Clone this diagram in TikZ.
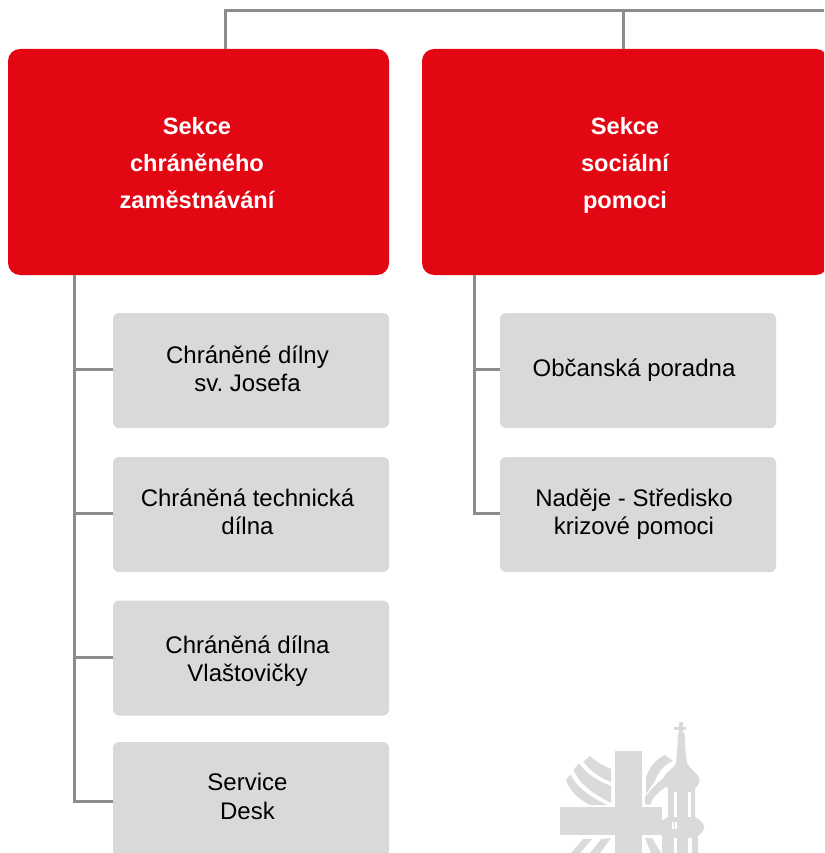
\documentclass[tikz,border=0pt]{standalone}
\usepackage{fontspec}
\setmainfont{Liberation Sans}
\frenchspacing
\definecolor{cred}{HTML}{E30613}
\definecolor{cgray}{HTML}{D9D9D9}
\definecolor{cline}{HTML}{8C8C8C}
\definecolor{clogo}{HTML}{DADADA}
\tikzset{
 redbox/.style={draw=none,fill=cred,rounded corners=12pt,minimum width=381pt,minimum height=226pt,inner sep=0pt},
 graybox/.style={draw=none,fill=cgray,rounded corners=6pt,minimum width=276pt,minimum height=115pt,inner sep=0pt},
 redtext/.style={text=white,align=center,inner sep=0pt,font=\fontsize{23.6}{37}\selectfont\bfseries},
 graytext/.style={text=black,align=center,inner sep=0pt,font=\fontsize{24}{28.5}\selectfont},
 conn/.style={draw=cline,line width=3pt},
 logo/.style={fill=clogo,draw=none},
 logogap/.style={fill=white,draw=none}
}
\begin{document}
\begin{tikzpicture}[x=1pt,y=-1pt]
\useasboundingbox (0,0) rectangle (824,853);
\begin{scope}
\clip (0,0) rectangle (824,853);
\coordinate (top) at (225,11);
\coordinate (topr) at (830,11);
\coordinate (u2) at (623,11);
\coordinate (t1) at (74,275);
\coordinate (t2) at (474,275);
\node[redbox] (r1) at (198.5,162) {};
\node[redbox,minimum width=406pt] (r2) at (625,162) {};
\node[graybox] (a1) at (251,370.5) {};
\node[graybox] (a2) at (251,514.5) {};
\node[graybox] (a3) at (251,658) {};
\node[graybox] (a4) at (251,799.5) {};
\node[graybox] (b1) at (638,370.5) {};
\node[graybox] (b2) at (638,514.5) {};
\node[redtext] (r1t) at ([xshift=-1.5pt,yshift=-2pt]r1.center) {\strut Sekce\\chráněného\\zaměstnávání\strut};
\node[redtext] (r2t) at ([yshift=-2pt]r2.center) {\strut Sekce\\sociální\\pomoci\strut};
\node[graytext] (a1t) at ([xshift=-3.5pt,yshift=-1.5pt]a1.center) {\strut Chráněné dílny\\sv. Josefa\strut};
\node[graytext] (a2t) at ([xshift=-3.5pt,yshift=-0.5pt]a2.center) {\strut Chráněná technická\\dílna\strut};
\node[graytext] (a3t) at ([xshift=-3.5pt,yshift=-4pt]a3.center) {\strut Chráněná dílna\\Vlaštovičky\strut};
\node[graytext] (a4t) at ([xshift=-3.5pt,yshift=0pt]a4.center) {\strut Service\\Desk\strut};
\node[graytext] (b1t) at ([xshift=-4pt,yshift=0pt]b1.center) {\strut Občanská poradna\strut};
\node[graytext] (b2t) at ([xshift=-4pt,yshift=-0.5pt]b2.center) {\strut Naděje - Středisko\\krizové pomoci\strut};
\draw[conn] (topr) -- (top) -- (top |- r1.north);
\draw[conn] (u2) -- (u2 |- r2.north);
\draw[conn] (t1) |- ([yshift=-1.5pt]a4.west);
\draw[conn] (t1 |- a1.west) ++(0,-1.5) -- ([yshift=1.5pt]a1.west);
\draw[conn] (t1 |- a2.west) ++(0,-1.5) -- ([yshift=1.5pt]a2.west);
\draw[conn] (t1 |- a3.west) ++(0,-1) -- ([yshift=1pt]a3.west);
\draw[conn] (t2) |- ([yshift=1.5pt]b2.west);
\draw[conn] (t2 |- b1.west) ++(0,-1.5) -- ([yshift=1.5pt]b1.west);
% logo: cross
\fill[logo] (615,751) rectangle (642,853);
\fill[logo] (560,807) rectangle (662,835);
% left wing bands
\fill[logo] (583.3,761.7) -- (590,756) .. controls (596,762) and (604,766) .. (611,769) -- (611,782) .. controls (601,778) and (591,772) .. (583.3,761.7) -- cycle;
\fill[logo] (573.3,770) -- (579,763.3) .. controls (587,775) and (600,782) .. (611,786) -- (611,803) .. controls (598,796) and (581,787) .. (573.3,770) -- cycle;
\fill[logo] (566,780) -- (570.5,774.5) .. controls (577,788) and (592,798) .. (608,805) -- (590,805) .. controls (578,799) and (570,791) .. (566,780) -- cycle;
\fill[logo] (571,853) -- (583.3,839) -- (592,839) -- (580,853) -- cycle;
\fill[logo] (590,853) -- (601,839) -- (611,838) -- (600,853) -- cycle;
% right wing bands
\fill[logo] (646,777) .. controls (650,766) and (656,759) .. (665,755) -- (673,761) .. controls (663,765) and (658,773) .. (655,781) -- (646,794) -- cycle;
\fill[logo] (645,804) -- (645,797) .. controls (652,788) and (658,782) .. (666,776) -- (666,787) .. controls (658,792) and (652,798) .. (650,805) -- cycle;
\fill[logo] (645,838) -- (652,838) -- (661,853) -- (651,853) -- cycle;
% church
\fill[logo] (679.3,722) rectangle (683.3,735);
\fill[logo] (674.3,727.3) rectangle (686,730);
\fill[logo] (678,733) -- (684.6,733) .. controls (685,745) and (685.5,755) .. (687,763) .. controls (690,770) and (699.5,773) .. (699.5,781) .. controls (699.5,785) and (696,787) .. (695,788)
 -- (695,817) .. controls (699,819) and (704,823) .. (704,827) .. controls (704,832) and (700,834) .. (698,836) -- (698,853) -- (662,853) -- (662,836) .. controls (660,834) and (657,832) .. (657,827) .. controls (657,823) and (665,819) .. (668,817)
 -- (668,788) .. controls (665,787) and (663,785) .. (663,781) .. controls (663,773) and (673,770) .. (676,763) .. controls (677,755) and (677.6,745) .. (678,733) -- cycle;
\fill[logogap] (673.5,792) rectangle (677,817);
\fill[logogap] (687.5,792) rectangle (691,817);
\fill[logogap] (672,822) rectangle (673.5,829);
\fill[logogap] (675,822) rectangle (676.5,829);
\fill[logogap] (673.5,838) rectangle (677,853);
\fill[logogap] (688,838) rectangle (692,853);
\end{scope}
\end{tikzpicture}
\end{document}
